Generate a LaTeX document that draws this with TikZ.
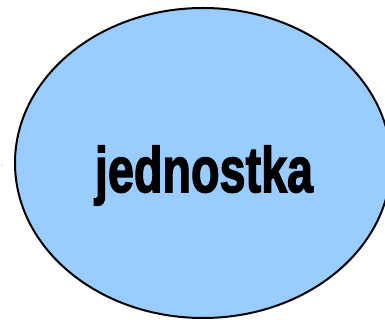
\documentclass[tikz,border=0pt]{standalone}
\usepackage{fontspec}
\setmainfont{Liberation Sans}
\newfontfamily\heavyfont{Liberation Sans Bold}[FakeBold=2.5]
\usetikzlibrary{shapes.geometric}
\definecolor{blobblue}{HTML}{99CCFF}
\tikzset{
  blob/.style={ellipse, draw=black, line width=2pt, fill=blobblue, minimum width=376pt, minimum height=310pt, inner sep=0pt},
  label/.style={font=\heavyfont\fontsize{64pt}{70pt}\selectfont, inner sep=0pt, xscale=0.73}
}
\begin{document}
\begin{tikzpicture}[x=1pt,y=1pt]
\useasboundingbox (0,0) rectangle (385,320);
\node[blob] (e) at (203,157) {};
\node[label, anchor=base] (t) at (204,128) {jednostka};
\fill[gray] (2,155) circle (0.6pt);
\end{tikzpicture}
\end{document}
